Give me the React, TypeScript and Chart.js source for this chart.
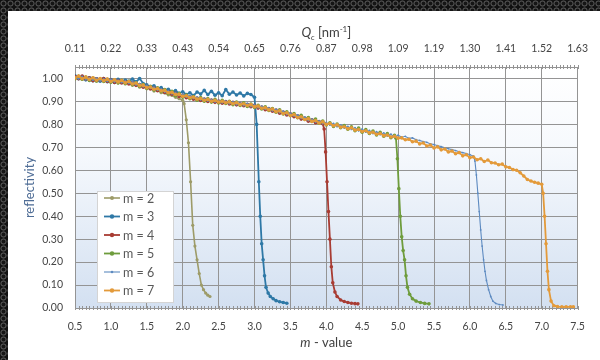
import React, { useEffect, useRef } from 'react';
import { Chart, registerables } from 'chart.js';
Chart.register(...registerables);

// ---------- data ----------
const mGrid = [0.5,0.55,0.6,0.65,0.7,0.75,0.8,0.85,0.9,0.95,1,1.05,1.1,1.15,1.2,1.25,1.3,1.35,1.4,1.45,1.5,1.55,1.6,1.65,1.7,1.75,1.8,1.85,1.9,1.95,2,2.05,2.1,2.15,2.2,2.25,2.3,2.35,2.4,2.45,2.5,2.55,2.6,2.65,2.7,2.75,2.8,2.85,2.9,2.95,3,3.05,3.1,3.15,3.2,3.25,3.3,3.35,3.4,3.45,3.5,3.55,3.6,3.65,3.7,3.75,3.8,3.85,3.9,3.95,4,4.05,4.1,4.15,4.2,4.25,4.3,4.35,4.4,4.45,4.5,4.55,4.6,4.65,4.7,4.75,4.8,4.85,4.9,4.95,5,5.05,5.1,5.15,5.2,5.25,5.3,5.35,5.4,5.45,5.5,5.55,5.6,5.65,5.7,5.75,5.8,5.85,5.9,5.95,6,6.05,6.1,6.15,6.2,6.25,6.3,6.35,6.4,6.45,6.5,6.55,6.6,6.65,6.7,6.75,6.8,6.85,6.9,6.95,7];

const mTickValues = [0.5,1,1.5,2,2.5,3,3.5,4,4.5,5,5.5,6,6.5,7,7.5];
const qcLabels = ['0.11','0.22','0.33','0.43','0.54','0.65','0.76','0.87','0.98','1.09','1.19','1.30','1.41','1.52','1.63'];
const rTickValues = [0,0.1,0.2,0.3,0.4,0.5,0.6,0.7,0.8,0.9,1.0];
const seriesNames = ['m = 2','m = 3','m = 4','m = 5','m = 6','m = 7'];

const m2Plateau = [0.998,1.010,0.996,1.004,0.992,1.001,0.988,0.997,0.990,0.996,
0.984,0.991,0.980,0.987,0.976,0.981,0.970,0.972,0.962,0.966,
0.955,0.958,0.945,0.950,0.938,0.937,0.928,0.926,0.918,0.912,
0.905];
const m2DropM = [2.02,2.05,2.08,2.11,2.14,2.17,2.20,2.23,2.26,2.29,2.32,2.35,2.38];
const m2DropR = [0.89,0.82,0.72,0.55,0.36,0.27,0.21,0.15,0.10,0.08,0.065,0.056,0.05];

const m3Plateau = [1.012,0.999,1.008,0.994,1.003,0.990,0.999,0.988,1.000,0.986,
0.995,0.983,0.996,0.985,0.993,0.988,0.998,0.985,1.000,0.978,
0.972,0.962,0.968,0.955,0.961,0.949,0.953,0.941,0.947,0.935,
0.942,0.930,0.938,0.926,0.941,0.932,0.948,0.930,0.944,0.927,
0.938,0.925,0.952,0.931,0.941,0.928,0.937,0.924,0.935,0.930,
0.918];
const m3DropM = [3.03,3.06,3.08,3.10,3.12,3.14,3.16,3.19,3.22,3.26,3.30,3.35,3.40,3.45];
const m3DropR = [0.80,0.55,0.40,0.28,0.21,0.14,0.09,0.065,0.05,0.04,0.032,0.027,0.024,0.021];

const m4Plateau = [1.008,0.999,1.011,0.998,1.003,0.990,0.999,0.992,1.000,0.987,
0.993,0.983,0.991,0.980,0.987,0.976,0.982,0.970,0.974,0.962,
0.966,0.954,0.959,0.947,0.951,0.939,0.943,0.931,0.935,0.922,
0.927,0.916,0.921,0.910,0.915,0.904,0.910,0.900,0.906,0.896,
0.902,0.892,0.899,0.889,0.896,0.885,0.891,0.881,0.888,0.877,
0.883,0.871,0.876,0.864,0.869,0.857,0.862,0.849,0.854,0.841,
0.846,0.833,0.837,0.823,0.828,0.814,0.820,0.807,0.812,0.803];
const m4DropM = [3.97,3.99,4.01,4.03,4.05,4.07,4.09,4.12,4.15,4.20,4.25,4.30,4.35,4.40,4.44];
const m4DropR = [0.78,0.68,0.55,0.42,0.30,0.18,0.11,0.07,0.05,0.035,0.028,0.024,0.021,0.019,0.018];

const m5Plateau = [0.999,1.010,0.997,1.006,0.991,1.002,0.989,0.999,0.987,0.996,
0.984,0.993,0.981,0.992,0.978,0.988,0.973,0.981,0.965,0.974,
0.957,0.966,0.950,0.959,0.943,0.952,0.934,0.944,0.925,0.935,
0.918,0.928,0.912,0.921,0.905,0.917,0.901,0.912,0.897,0.909,
0.893,0.905,0.891,0.901,0.886,0.897,0.882,0.894,0.878,0.889,
0.874,0.883,0.867,0.877,0.861,0.869,0.853,0.864,0.845,0.855,
0.838,0.847,0.829,0.840,0.822,0.830,0.813,0.823,0.805,0.815,
0.797,0.807,0.791,0.801,0.785,0.795,0.779,0.789,0.772,0.784,
0.766,0.777,0.760,0.771,0.754,0.766,0.748,0.760,0.742,0.752];
const m5DropM = [4.97,4.99,5.01,5.03,5.05,5.07,5.09,5.11,5.13,5.16,5.20,5.25,5.31,5.37,5.43];
const m5DropR = [0.74,0.65,0.52,0.40,0.31,0.25,0.21,0.14,0.09,0.06,0.04,0.03,0.024,0.02,0.018];

const m6Plateau = [1.006,0.998,1.009,0.995,1.004,0.993,1.001,0.990,0.998,0.988,
0.996,0.985,0.993,0.982,0.990,0.979,0.985,0.972,0.978,0.964,
0.970,0.957,0.962,0.949,0.955,0.941,0.947,0.933,0.938,0.926,
0.931,0.919,0.925,0.913,0.919,0.907,0.913,0.902,0.909,0.898,
0.905,0.894,0.901,0.890,0.898,0.886,0.894,0.882,0.891,0.878,
0.886,0.873,0.879,0.866,0.872,0.859,0.865,0.851,0.858,0.843,
0.849,0.836,0.841,0.826,0.832,0.817,0.823,0.810,0.815,0.803,
0.809,0.797,0.804,0.790,0.798,0.784,0.791,0.778,0.786,0.772,
0.780,0.766,0.774,0.760,0.768,0.755,0.763,0.749,0.757,0.744,
0.753,0.744,0.748,0.739,0.741,0.733,0.730,0.725,0.722,0.715,
0.712,0.707,0.703,0.698,0.694,0.690,0.686,0.681,0.677,0.673,
0.668,0.662];
const m6DropM = [6.07,6.09,6.11,6.13,6.15,6.17,6.19,6.21,6.23,6.26,6.29,6.32,6.36,6.41,6.46];
const m6DropR = [0.64,0.58,0.50,0.42,0.34,0.27,0.21,0.16,0.12,0.08,0.05,0.03,0.02,0.015,0.013];

const m7Plateau = [1.002,1.011,0.999,1.006,0.996,1.003,0.992,1.000,0.990,0.997,
0.987,0.994,0.985,0.991,0.981,0.987,0.976,0.980,0.969,0.971,
0.960,0.963,0.953,0.956,0.946,0.948,0.938,0.940,0.930,0.931,
0.922,0.925,0.916,0.919,0.910,0.913,0.905,0.909,0.901,0.905,
0.897,0.901,0.894,0.898,0.890,0.894,0.886,0.890,0.882,0.886,
0.877,0.880,0.870,0.873,0.863,0.867,0.855,0.859,0.847,0.851,
0.839,0.843,0.830,0.833,0.821,0.825,0.813,0.817,0.806,0.811,
0.800,0.804,0.794,0.798,0.788,0.790,0.781,0.785,0.775,0.778,
0.769,0.772,0.763,0.766,0.757,0.760,0.751,0.754,0.745,0.748,
0.740,0.741,0.733,0.735,0.724,0.727,0.715,0.719,0.706,0.710,
0.697,0.702,0.689,0.693,0.680,0.684,0.672,0.677,0.663,0.668,
0.655,0.658,0.646,0.650,0.638,0.645,0.633,0.632,0.624,0.627,
0.615,0.612,0.603,0.600,0.589,0.575,0.560,0.553,0.548,0.544,
0.539];
const m7DropM = [7.02,7.04,7.06,7.08,7.10,7.13,7.17,7.22,7.28,7.34,7.40,7.44];
const m7DropR = [0.50,0.40,0.28,0.16,0.08,0.03,0.01,0.006,0.005,0.005,0.005,0.005];

const plateaus = [m2Plateau, m3Plateau, m4Plateau, m5Plateau, m6Plateau, m7Plateau];
const dropMs = [m2DropM, m3DropM, m4DropM, m5DropM, m6DropM, m7DropM];
const dropRs = [m2DropR, m3DropR, m4DropR, m5DropR, m6DropR, m7DropR];

// ---------- styles ----------
const seriesColors = ['#9d9b68', '#2e78a6', '#a83c33', '#6e9c3c', '#5d8ac0', '#e39a3a'];
const seriesWidths = [1.6, 1.8, 1.8, 1.8, 1.1, 1.8];
const seriesRadius = [1.6, 1.8, 1.8, 1.8, 0.9, 1.8];
const FONT = 'Lato, "Open Sans", sans-serif';
const TICK_COLOR = '#454545';
const GRID_COLOR = '#949494';

const bgPlugin = {
  id: 'plotBg',
  beforeDraw(chart: any) {
    const { ctx, chartArea: a } = chart;
    const g = ctx.createLinearGradient(0, a.top, 0, a.bottom);
    g.addColorStop(0, '#ffffff');
    g.addColorStop(0.35, '#f6f9fd');
    g.addColorStop(1, '#d3e0f1');
    ctx.save();
    ctx.fillStyle = g;
    ctx.fillRect(a.left, a.top, a.right - a.left, a.bottom - a.top);
    ctx.restore();
  },
  beforeDatasetsDraw(chart: any) {
    const { ctx, chartArea: a } = chart;
    const xs = chart.scales.x;
    ctx.save();
    ctx.strokeStyle = GRID_COLOR;
    ctx.lineWidth = 1;
    ctx.beginPath();
    for (let k = 0; k <= 140; k++) {
      const px = Math.round(xs.getPixelForValue(0.5 + k * 0.05)) + 0.5;
      ctx.moveTo(px, a.top - 2);
      ctx.lineTo(px, a.top + 2);
      ctx.moveTo(px, a.bottom - 2);
      ctx.lineTo(px, a.bottom + 2);
    }
    ctx.stroke();
    ctx.restore();
  },
};

const decoPlugin = {
  id: 'deco',
  afterDraw(chart: any) {
    const { ctx, chartArea: a } = chart;
    const cx = (a.left + a.right) / 2;
    ctx.save();
    // top title: Q_c [nm^-1]
    const parts = [
      { t: 'Q', f: `italic 13px ${FONT}`, dy: 0 },
      { t: 'c', f: `italic 8px ${FONT}`, dy: 3 },
      { t: ' [nm', f: `13px ${FONT}`, dy: 0 },
      { t: '-1', f: `8px ${FONT}`, dy: -5 },
      { t: ']', f: `13px ${FONT}`, dy: 0 },
    ];
    let w = 0;
    parts.forEach(p => { ctx.font = p.f; w += ctx.measureText(p.t).width; });
    let x = cx - w / 2;
    ctx.fillStyle = '#404040';
    ctx.textBaseline = 'alphabetic';
    ctx.textAlign = 'left';
    parts.forEach(p => { ctx.font = p.f; ctx.fillText(p.t, x, 37 + p.dy); x += ctx.measureText(p.t).width; });

    // bottom title: m - value
    const bparts = [
      { t: 'm', f: `italic 13px ${FONT}` },
      { t: ' - value', f: `13px ${FONT}` },
    ];
    w = 0;
    bparts.forEach(p => { ctx.font = p.f; w += ctx.measureText(p.t).width; });
    x = cx - w / 2;
    bparts.forEach(p => { ctx.font = p.f; ctx.fillText(p.t, x, 347); x += ctx.measureText(p.t).width; });

    // y title
    ctx.translate(30, (a.top + a.bottom) / 2);
    ctx.rotate(-Math.PI / 2);
    ctx.textAlign = 'center';
    ctx.textBaseline = 'middle';
    ctx.font = `13px ${FONT}`;
    ctx.fillStyle = '#4f6d96';
    ctx.fillText('reflectivity', 0, 0);
    ctx.restore();

    // legend
    ctx.save();
    ctx.fillStyle = '#ffffff';
    ctx.fillRect(97, 191, 76, 111);
    ctx.strokeStyle = '#d4d4d4';
    ctx.lineWidth = 1;
    ctx.strokeRect(97.5, 191.5, 76, 111);
    ctx.font = `12.5px ${FONT}`;
    ctx.textBaseline = 'middle';
    ctx.textAlign = 'left';
    seriesNames.forEach((name, i) => {
      const y = 198 + i * 18.5;
      ctx.strokeStyle = seriesColors[i];
      ctx.lineWidth = seriesWidths[i];
      ctx.beginPath();
      ctx.moveTo(104, y);
      ctx.lineTo(120, y);
      ctx.stroke();
      ctx.fillStyle = seriesColors[i];
      ctx.beginPath();
      ctx.arc(112, y, seriesRadius[i] + 0.4, 0, Math.PI * 2);
      ctx.fill();
      ctx.fillStyle = '#595959';
      ctx.fillText(name, 123, y + 0.5);
    });
    ctx.restore();
  },
};

export default function App() {
  const ref = useRef<HTMLCanvasElement | null>(null);
  useEffect(() => {
    if (!ref.current) return;
    const datasets = seriesNames.map((name, i) => {
      const pts = plateaus[i].map((r, j) => ({ x: mGrid[j], y: r }))
        .concat(dropMs[i].map((m, j) => ({ x: m, y: dropRs[i][j] })));
      return {
        label: name,
        data: pts,
        showLine: true,
        borderColor: seriesColors[i],
        backgroundColor: seriesColors[i],
        borderWidth: seriesWidths[i],
        pointRadius: seriesRadius[i],
        pointBorderWidth: 0,
        pointHoverRadius: 0,
        tension: 0,
        order: seriesNames.length - 1 - i,
      };
    });
    const tickFont = { family: FONT, size: 10.5 };
    const chart = new Chart(ref.current, {
      type: 'scatter',
      data: { datasets },
      options: {
        animation: false,
        responsive: false,
        maintainAspectRatio: false,
        layout: { padding: { left: 0, right: 12, top: 0, bottom: 0 } },
        plugins: { legend: { display: false }, tooltip: { enabled: false } },
        scales: {
          x: {
            type: 'linear', position: 'bottom', min: 0.5, max: 7.5,
            afterBuildTicks: (s: any) => { s.ticks = mTickValues.map(v => ({ value: v })); },
            afterFit: (s: any) => { s.height = 52; },
            ticks: { callback: (v: any) => Number(v).toFixed(1), padding: 12, font: tickFont, color: TICK_COLOR, autoSkip: false, maxRotation: 0 },
            grid: { color: GRID_COLOR, drawTicks: false, lineWidth: 1 },
            border: { color: GRID_COLOR },
          },
          x2: {
            type: 'linear', position: 'top', min: 0.5, max: 7.5,
            afterBuildTicks: (s: any) => { s.ticks = mTickValues.map(v => ({ value: v })); },
            afterFit: (s: any) => { s.height = 67; },
            ticks: { callback: (_v: any, i: number) => qcLabels[i], padding: 12, font: tickFont, color: TICK_COLOR, autoSkip: false, maxRotation: 0 },
            grid: { display: false, drawTicks: false },
            border: { color: GRID_COLOR },
          },
          y: {
            type: 'linear', min: 0, max: 1.05,
            afterBuildTicks: (s: any) => { s.ticks = rTickValues.map(v => ({ value: v })); },
            afterFit: (s: any) => { s.width = 75; },
            ticks: { callback: (v: any) => Number(v).toFixed(2), padding: 12, font: tickFont, color: TICK_COLOR, autoSkip: false },
            grid: { color: GRID_COLOR, drawTicks: false, lineWidth: 1 },
            border: { color: GRID_COLOR },
          },
        },
      } as any,
      plugins: [bgPlugin, decoPlugin],
    });
    return () => chart.destroy();
  }, []);

  return (
    <div style={{
      position: 'fixed', left: 0, top: 0, width: 600, height: 360, overflow: 'hidden',
      background: 'radial-gradient(circle, #151515 0 1.6px, #4a4a4a 2.2px 2.8px, #111111 3.4px)',
      backgroundSize: '7px 7px',
    }}>
      <div style={{ position: 'absolute', left: 8, top: 11, right: 0, bottom: 0, background: '#ffffff' }} />
      <canvas ref={ref} width={600} height={360} style={{ position: 'absolute', left: 0, top: 0, width: 600, height: 360 }} />
    </div>
  );
}
